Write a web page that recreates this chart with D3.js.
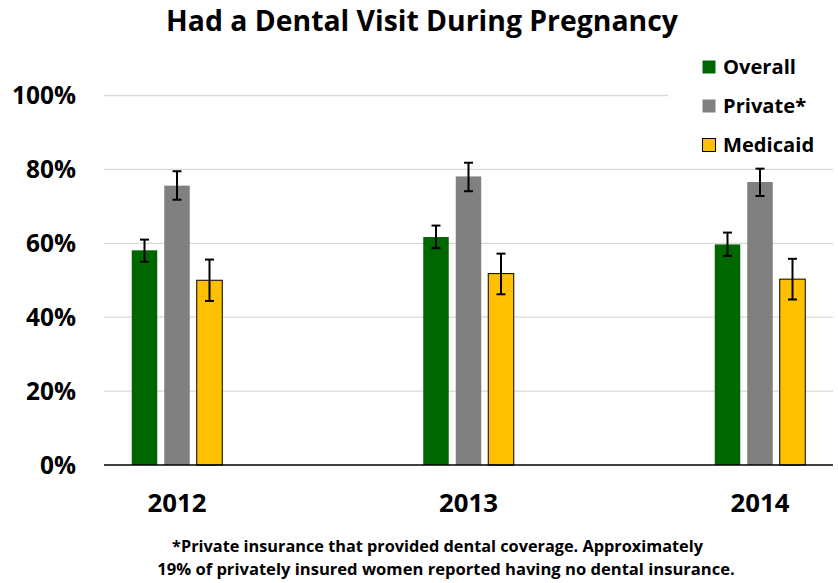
<!DOCTYPE html>
<html><head><meta charset="utf-8">
<script src="https://cdn.jsdelivr.net/npm/d3@7"></script>
<style>body{margin:0;background:#fff}svg{display:block;font-family:"Open Sans",Lato,sans-serif;font-weight:bold}</style>
</head><body>
<svg id="c" width="838" height="583"></svg>
<script>
const years = ["2012","2013","2014"];
const seriesNames = ["Overall","Private*","Medicaid"];
const overall = [58.1, 61.7, 59.7];
const overallLo = [55.0, 58.7, 56.6];
const overallHi = [61.0, 64.8, 62.9];
const privateIns = [75.6, 78.1, 76.6];
const privateLo = [71.8, 74.1, 72.8];
const privateHi = [79.5, 81.8, 80.2];
const medicaid = [50.0, 51.8, 50.3];
const medicaidLo = [44.4, 46.2, 44.8];
const medicaidHi = [55.6, 57.2, 55.8];
const yTicks = [0, 20, 40, 60, 80, 100];
const colors = ["#006600", "#808080", "#FFC000"];
const title = "Had a Dental Visit During Pregnancy";
const footnote = ["*Private insurance that provided dental coverage. Approximately",
                  "19% of privately insured women reported having no dental insurance."];

const values = [overall, privateIns, medicaid];
const lows = [overallLo, privateLo, medicaidLo];
const highs = [overallHi, privateHi, medicaidHi];

const svg = d3.select("#c");
const plotL = 104, plotR = 833;
const y = d3.scaleLinear().domain([0, 100]).range([465, 95.5]);
const x = d3.scalePoint().domain(years).range([177, 760]);
const sx = d3.scalePoint().domain(seriesNames).range([-32.5, 32.5]);
const bw = 25.5;

function fit(sel, w) {
  const n = sel.node();
  const cur = parseFloat(sel.attr("font-size"));
  const len = n.getComputedTextLength();
  sel.attr("font-size", (cur * w / len).toFixed(2));
}

// gridlines
svg.append("g").selectAll("line").data(yTicks.filter(d => d > 0)).join("line")
  .attr("x1", plotL).attr("x2", plotR)
  .attr("y1", d => y(d)).attr("y2", d => y(d))
  .attr("stroke", "#d9d9d9").attr("stroke-width", 1.3);

// y axis labels
const yl = svg.append("g").selectAll("text").data(yTicks).join("text")
  .attr("x", 76).attr("y", d => y(d)).attr("dy", "0.36em")
  .attr("text-anchor", "end").attr("font-size", 22).attr("fill", "#000")
  .text(d => d + "%");
fit(d3.select(yl.nodes()[5]), 64);
yl.attr("font-size", d3.select(yl.nodes()[5]).attr("font-size"));

// bars
seriesNames.forEach((s, si) => {
  const g = svg.append("g");
  g.selectAll("rect").data(years).join("rect")
    .attr("x", d => x(d) + sx(s) - bw / 2)
    .attr("width", bw)
    .attr("y", (d, i) => y(values[si][i]))
    .attr("height", (d, i) => y(0) - y(values[si][i]))
    .attr("fill", colors[si])
    .attr("stroke", si === 2 ? "#000" : "none")
    .attr("stroke-width", si === 2 ? 1 : 0);
  const e = svg.append("g").attr("stroke", "#000").attr("stroke-width", 2);
  years.forEach((yr, i) => {
    const cx = x(yr) + sx(s);
    e.append("line").attr("x1", cx).attr("x2", cx).attr("y1", y(lows[si][i])).attr("y2", y(highs[si][i]));
    e.append("line").attr("x1", cx - 4.5).attr("x2", cx + 4.5).attr("y1", y(lows[si][i])).attr("y2", y(lows[si][i]));
    e.append("line").attr("x1", cx - 4.5).attr("x2", cx + 4.5).attr("y1", y(highs[si][i])).attr("y2", y(highs[si][i]));
  });
});

// x axis line
svg.append("line").attr("x1", plotL).attr("x2", plotR).attr("y1", y(0)).attr("y2", y(0))
  .attr("stroke", "#000").attr("stroke-width", 1.3);

// x labels
const xl = svg.append("g").selectAll("text").data(years).join("text")
  .attr("x", d => x(d)).attr("y", 512).attr("text-anchor", "middle")
  .attr("font-size", 22).attr("fill", "#000").text(d => d);
fit(d3.select(xl.nodes()[0]), 59);
xl.attr("font-size", d3.select(xl.nodes()[0]).attr("font-size"));

// legend
svg.append("rect").attr("x", 668).attr("y", 50).attr("width", 170).attr("height", 110).attr("fill", "#fff");
const legY = [67, 106, 145];
const lt = [];
seriesNames.forEach((s, i) => {
  svg.append("rect").attr("x", 702.5).attr("y", legY[i] - 6.5).attr("width", 13).attr("height", 13)
    .attr("fill", colors[i]).attr("stroke", i === 2 ? "#000" : "none").attr("stroke-width", 1);
  lt.push(svg.append("text").attr("x", 723).attr("y", legY[i]).attr("dy", "0.36em")
    .attr("font-size", 20).attr("fill", "#000").text(s));
});
fit(lt[0], 73);
lt.forEach(t => t.attr("font-size", lt[0].attr("font-size")));

// title
const t = svg.append("text").attr("x", 422).attr("y", 31).attr("text-anchor", "middle")
  .attr("font-size", 26).attr("fill", "#000").text(title);
fit(t, 512);

// footnote
const f1 = svg.append("text").attr("x", 437.5).attr("y", 552).attr("text-anchor", "middle")
  .attr("font-size", 14).attr("fill", "#000").text(footnote[0]);
const f2 = svg.append("text").attr("x", 446).attr("y", 575).attr("text-anchor", "middle")
  .attr("font-size", 14).attr("fill", "#000").text(footnote[1]);
fit(f1, 531); fit(f2, 578);
</script>
</body></html>
